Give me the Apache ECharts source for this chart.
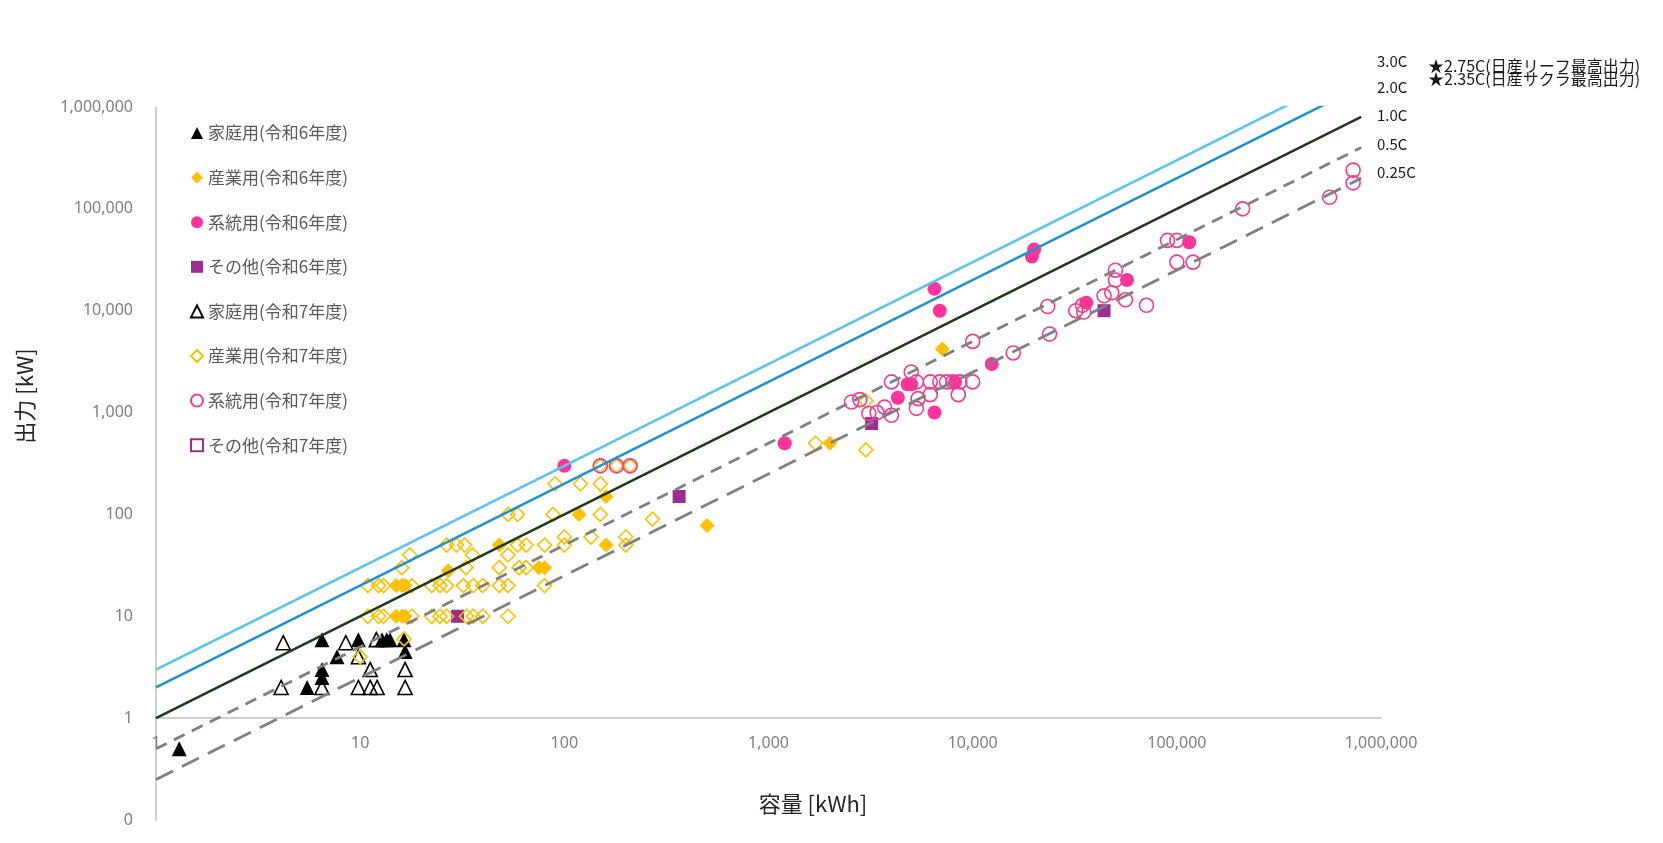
<!DOCTYPE html>
<html>
<head>
<meta charset="utf-8">
<script src="https://cdn.jsdelivr.net/npm/echarts@6/dist/echarts.min.js"></script>
<style>
html,body{margin:0;padding:0;background:#fff;}
#chart{width:1663px;height:843px;}
</style>
</head>
<body>
<div id="chart"></div>
<script>
// ---- data: [capacity kWh, output kW] ----
const seriesNames = [
  '家庭用(令和6年度)', '産業用(令和6年度)', '系統用(令和6年度)', 'その他(令和6年度)',
  '家庭用(令和7年度)', '産業用(令和7年度)', '系統用(令和7年度)', 'その他(令和7年度)'
];
const home6 = [[1.3,0.5],[5.5,2],[6.5,2.5],[6.5,3],[6.5,5.9],[7.7,4],[9.8,5.9],[12.8,5.9],[13.5,5.9],[14,5.9],[16.4,5.9],[16.6,4.5]];
const ind6 = [[15,10],[16,10],[16.6,10],[15,20],[16,20],[16.6,20],[27,28],[48,50],[75,30],[80,30],[118,100],[160,150],[160,50],[500,78],[2000,500],[7100,4200]];
const grid6 = [[100,300],[1200,500],[4300,1400],[4800,1900],[5000,1900],[6500,1000],[6500,16400],[6900,10000],[8200,2000],[12400,3000],[19500,34000],[20000,40000],[36000,12000],[57000,20000],[115000,47000]];
const other6 = [[30,10],[365,150],[3200,780],[44000,10000]];
const home7 = [[4.1,2],[4.2,5.5],[6.5,2],[8.5,5.5],[9.8,2],[9.8,4],[11.2,2],[11.2,3],[12,5.9],[12.1,2],[16.6,2],[16.6,3]];
const ind7 = [
  [10.9,10],[12.3,10],[13,10],[17.9,10],[22.4,10],[24.6,10],[26.5,10],[33.2,10],[35.8,10],[39.8,10],[53,10],
  [10.9,20],[12.3,20],[13,20],[17.9,20],[22.4,20],[24.6,20],[26.5,20],[32,20],[35.8,20],[39.8,20],[48,20],[53,20],[80,20],
  [10,4],[16.4,6],[16,30],[17.5,40],[26.5,50],[29.6,50],[32.5,50],[33,30],[35.5,40],[48,30],[53,40],[59,50],[65,50],[60,30],[65,30],
  [80,50],[100,50],[100,60],[135,60],[200,60],[200,50],[53,100],[59,100],[88,100],[150,100],[90,200],[120,200],[150,200],
  [150,300],[180,300],[210,300],[270,90],[1700,500],[3000,430],[3000,1300]
];
const grid7 = [
  [150,300],[180,300],[210,300],
  [2550,1270],[2800,1340],[3100,980],[3400,1000],[3700,1130],[4000,940],[4000,2000],[5000,2500],[5300,2000],[5400,1370],[5300,1100],
  [6200,2000],[6200,1500],[6900,2000],[7450,2000],[8000,2000],[8650,2000],[8500,1500],[10000,2000],[10000,5000],[15800,3850],
  [23800,5900],[23300,11000],[32000,10000],[34500,11300],[35000,9700],[44000,14000],[48000,15000],[50000,20000],[50000,25000],
  [56000,12800],[71000,11300],[90000,49000],[100000,49000],[100000,30000],[120000,30000],[210000,100000],[560000,130000],
  [730000,180000],[730000,240000]
];
const other7 = [];

// C-rate reference lines (output = rate x capacity)
const rates = [3.0, 2.0, 1.0, 0.5, 0.25];
const rateLabels = ['3.0C', '2.0C', '1.0C', '0.5C', '0.25C'];
const rateLineXRange = [1, 800000];
const notes = ['★2.75C(日産リーフ最高出力)', '★2.35C(日産サクラ最高出力)'];
const xAxisTitle = '容量 [kWh]';
const yAxisTitle = '出力 [kW]';

// ---- styles ----
const JP = '"Noto Sans CJK JP", "Noto Sans", sans-serif';
const scatterStyles = [
  {data: home6, symbol: 'triangle', size: 15, color: '#000000', hollow: false},
  {data: ind6, symbol: 'diamond', size: 15, color: '#FFC000', hollow: false},
  {data: grid6, symbol: 'circle', size: 14, color: '#FF3399', hollow: false},
  {data: other6, symbol: 'rect', size: 13, color: '#9B2D95', hollow: false},
  {data: home7, symbol: 'triangle', size: 14, color: '#000000', hollow: true},
  {data: ind7, symbol: 'diamond', size: 14, color: '#FFC000', hollow: true},
  {data: grid7, symbol: 'circle', size: 14, color: '#F23C8F', hollow: true},
  {data: other7, symbol: 'rect', size: 12, color: '#9B2D95', hollow: true}
];
const lineStyles = [
  {color: '#55C4EE', type: 'solid', width: 2.5},
  {color: '#1B93D1', type: 'solid', width: 2.5},
  {color: '#1C3A1C', type: 'solid', width: 2.5},
  {color: '#808080', type: [12, 8], width: 2.8},
  {color: '#808080', type: [19, 10], width: 2.8}
];

const series = [];
scatterStyles.forEach((s, i) => {
  series.push({
    name: seriesNames[i],
    type: 'scatter',
    data: s.data,
    symbol: s.symbol,
    symbolSize: s.size,
    z: 2,
    itemStyle: s.hollow
      ? {color: 'rgba(255,255,255,0)', borderColor: s.color, borderWidth: 1.6, opacity: 1}
      : {color: s.color, borderWidth: 0, opacity: 1},
    emphasis: {disabled: true}
  });
});
rates.forEach((r, i) => {
  series.push({
    name: rateLabels[i],
    type: 'line',
    data: rateLineXRange.map(x => [x, x * r]),
    showSymbol: false,
    symbol: 'none',
    clip: true,
    z: 3,
    lineStyle: lineStyles[i],
    emphasis: {disabled: true}
  });
});

const chart = echarts.init(document.getElementById('chart'), null, {renderer: 'canvas'});
const fmt = v => v < 1 ? '0' : Math.round(v).toLocaleString('en-US');

const graphics = [];
rateLabels.forEach((t, i) => {
  graphics.push({type: 'text', left: 1377, top: [54, 80, 108, 137, 165][i],
    style: {text: t, font: '15px ' + JP, fill: '#1a1a1a'}});
});
notes.forEach((t, i) => {
  graphics.push({type: 'text', left: 1428, top: [58, 71][i],
    style: {text: t, font: '16px ' + JP, fill: '#1a1a1a'}});
});
graphics.push({type: 'text', x: 813, y: 804,
  style: {text: xAxisTitle, font: '22px ' + JP, fill: '#262626', textAlign: 'center', textVerticalAlign: 'middle'}});
graphics.push({type: 'text', x: 25, y: 396, rotation: Math.PI / 2,
  style: {text: yAxisTitle, font: '22px ' + JP, fill: '#262626', textAlign: 'center', textVerticalAlign: 'middle'}});

chart.setOption({
  animation: false,
  backgroundColor: '#ffffff',
  grid: {left: 156, right: 282, top: 107, bottom: 23, containLabel: false, outerBoundsMode: 'none'},
  legend: {
    data: seriesNames,
    orient: 'vertical',
    left: 185,
    top: 118,
    itemWidth: 12,
    itemHeight: 12,
    itemGap: 24.6,
    selectedMode: false,
    textStyle: {fontSize: 17, color: '#595959', fontFamily: JP, lineHeight: 20}
  },
  xAxis: {
    type: 'log',
    logBase: 10,
    min: 1,
    max: 1000000,
    offset: -102,
    axisLine: {show: true, lineStyle: {color: '#BFBFBF', width: 1.5}},
    axisTick: {show: false},
    splitLine: {show: false},
    axisLabel: {formatter: fmt, fontSize: 16, color: '#7F7F7F', margin: 17, fontFamily: '"Noto Sans", sans-serif'}
  },
  yAxis: {
    type: 'log',
    logBase: 10,
    min: 0.1,
    max: 1000000,
    axisLine: {show: true, lineStyle: {color: '#BFBFBF', width: 1.5}},
    axisTick: {show: false},
    splitLine: {show: false},
    axisLabel: {formatter: fmt, fontSize: 16, color: '#7F7F7F', margin: 23, fontFamily: '"Noto Sans", sans-serif'}
  },
  series: series,
  graphic: graphics
});
</script>
</body>
</html>
